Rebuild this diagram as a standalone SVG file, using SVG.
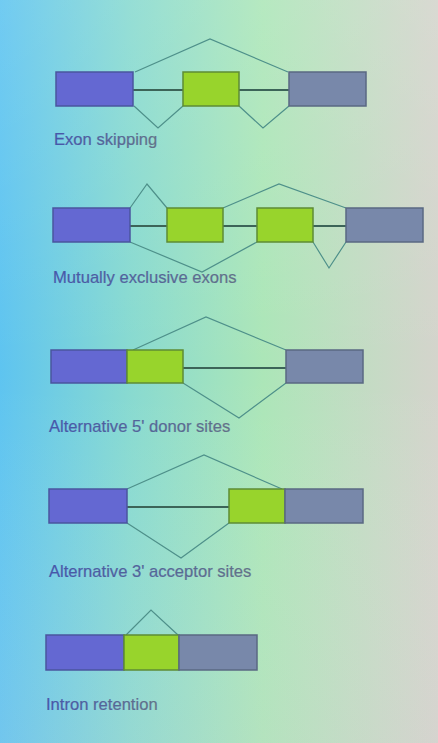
<svg xmlns="http://www.w3.org/2000/svg" width="438" height="743" viewBox="0 0 438 743">
<defs>
<linearGradient id="bg" x1="0" y1="0" x2="1" y2="0">
<stop offset="0" stop-color="#5ec4f0"/>
<stop offset="0.3" stop-color="#88dad0"/>
<stop offset="0.6" stop-color="#ace6b8"/>
<stop offset="1" stop-color="#d4d4cc"/>
</linearGradient>
<linearGradient id="bgv" x1="0" y1="0" x2="0" y2="1">
<stop offset="0" stop-color="#ffffff" stop-opacity="0.12"/>
<stop offset="0.5" stop-color="#ffffff" stop-opacity="0"/>
<stop offset="1" stop-color="#e0d0e0" stop-opacity="0.15"/>
</linearGradient>
<linearGradient id="txt" x1="0" y1="0" x2="1" y2="0">
<stop offset="0" stop-color="#4656aa"/>
<stop offset="1" stop-color="#627288"/>
</linearGradient>
</defs>
<style>
.blue{fill:#6468d2;stroke:#4a559e;stroke-width:1.5}
.green{fill:#98d42c;stroke:#5e8c34;stroke-width:1.5}
.grey{fill:#7888aa;stroke:#5a6882;stroke-width:1.5}
.intron{stroke:#3c6458;stroke-width:2;fill:none}
.caret{stroke:#4e908a;stroke-width:1.2;fill:none}
.lbl{font-family:"Liberation Sans",Arial,sans-serif;font-size:16.6px;fill:url(#txt);stroke:url(#txt);stroke-width:0.2}
</style>
<rect x="0" y="0" width="438" height="743" fill="url(#bg)"/>
<rect x="0" y="0" width="438" height="743" fill="url(#bgv)"/>

<g id="connectors">
<line class="intron" x1="133" y1="90" x2="183" y2="90"/>
<line class="intron" x1="239" y1="90" x2="289" y2="90"/>
<polyline class="caret" points="135,72 210,39 288,72"/>
<polyline class="caret" points="134,106 158,128 183,106"/>
<polyline class="caret" points="239,106 263,128 289,106"/>
<line class="intron" x1="130" y1="226" x2="167" y2="226"/>
<line class="intron" x1="223" y1="226" x2="257" y2="226"/>
<line class="intron" x1="313" y1="226" x2="346" y2="226"/>
<polyline class="caret" points="130,208 147,184 167,208"/>
<polyline class="caret" points="223,208 279,184 346,208"/>
<polyline class="caret" points="130,242 202,272 257,242"/>
<polyline class="caret" points="313,242 329,268 346,242"/>
<line class="intron" x1="183" y1="368" x2="286" y2="368"/>
<polyline class="caret" points="133,350 206,317 286,350"/>
<polyline class="caret" points="183,383 239,418 286,383"/>
<line class="intron" x1="127" y1="507" x2="229" y2="507"/>
<polyline class="caret" points="127,489 204,455 282,489"/>
<polyline class="caret" points="127,523 181,558 229,523"/>
<polyline class="caret" points="126,635 151,610 178,635"/>
</g>

<g id="exon-skipping">
<rect id="es-e1" class="blue" x="56" y="72" width="77" height="34"/>
<rect id="es-e2" class="green" x="183" y="72" width="56" height="34"/>
<rect id="es-e3" class="grey" x="289" y="72" width="77" height="34"/>
<text class="lbl" x="54" y="145">Exon skipping</text>
</g>

<g id="mutually-exclusive">
<rect id="me-e1" class="blue" x="53" y="208" width="77" height="34"/>
<rect id="me-e2" class="green" x="167" y="208" width="56" height="34"/>
<rect id="me-e3" class="green" x="257" y="208" width="56" height="34"/>
<rect id="me-e4" class="grey" x="346" y="208" width="77" height="34"/>
<text class="lbl" x="53" y="283">Mutually exclusive exons</text>
</g>

<g id="alt-5-donor">
<rect id="a5-e1" class="blue" x="51" y="350" width="76" height="33"/>
<rect id="a5-e2" class="green" x="127" y="350" width="56" height="33"/>
<rect id="a5-e3" class="grey" x="286" y="350" width="77" height="33"/>
<text class="lbl" x="49" y="432">Alternative 5' donor sites</text>
</g>

<g id="alt-3-acceptor">
<rect id="a3-e1" class="blue" x="49" y="489" width="78" height="34"/>
<rect id="a3-e2" class="green" x="229" y="489" width="56" height="34"/>
<rect id="a3-e3" class="grey" x="285" y="489" width="78" height="34"/>
<text class="lbl" x="49" y="577">Alternative 3' acceptor sites</text>
</g>

<g id="intron-retention">
<rect id="ir-e1" class="blue" x="46" y="635" width="78" height="35"/>
<rect id="ir-e2" class="green" x="124" y="635" width="55" height="35"/>
<rect id="ir-e3" class="grey" x="179" y="635" width="78" height="35"/>
<text class="lbl" x="46" y="710">Intron retention</text>
</g>
</svg>
